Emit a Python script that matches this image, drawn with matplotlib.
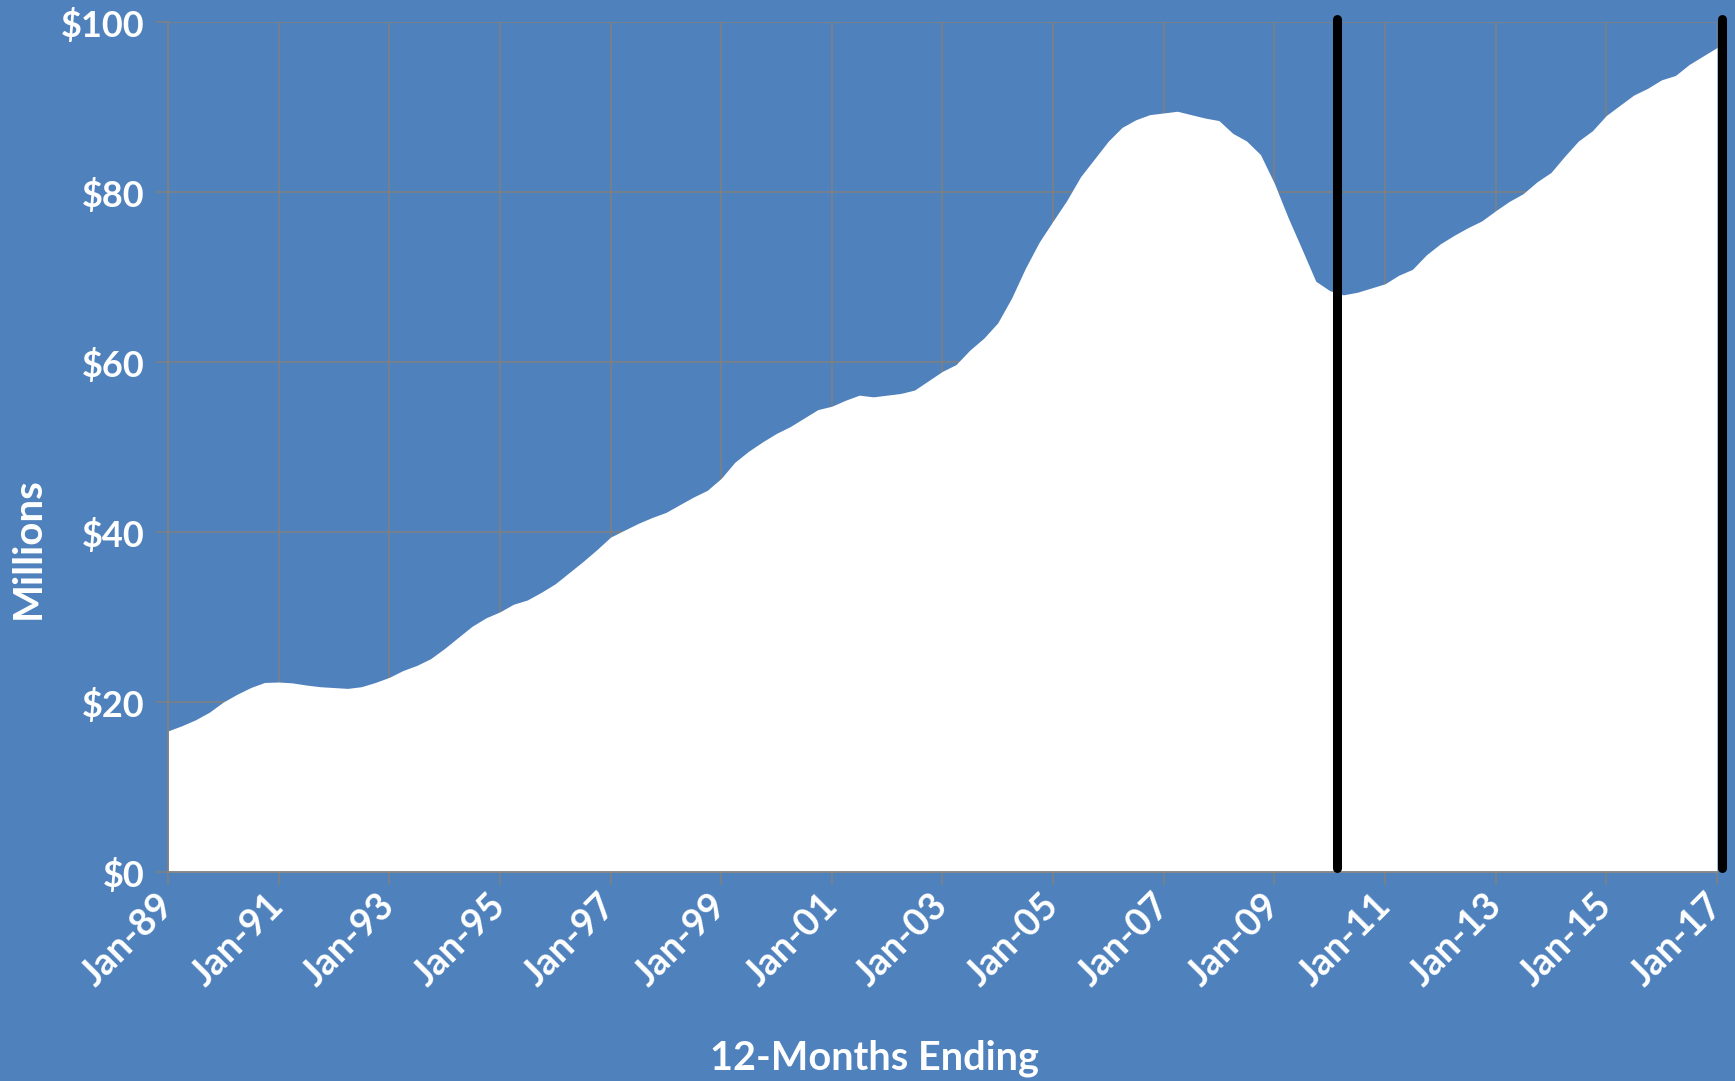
import numpy as np
import pandas as pd
import matplotlib
matplotlib.use('Agg')
import matplotlib.pyplot as plt
import matplotlib.dates as mdates

# quarterly 12-month totals, $ millions
dates = pd.date_range('1989-01-01', '2017-01-01', freq='QS')
spend = [
    16.6, 17.2, 17.9, 18.8,   # 1989
    20.0, 20.9, 21.7, 22.3,   # 1990
    22.35, 22.25, 22.0, 21.8, # 1991
    21.7, 21.6, 21.8, 22.3,   # 1992
    22.9, 23.7, 24.3, 25.1,   # 1993
    26.3, 27.6, 28.9, 29.9,   # 1994
    30.6, 31.5, 32.0, 32.9,   # 1995
    33.9, 35.2, 36.5, 37.9,   # 1996
    39.4, 40.2, 41.0, 41.7,   # 1997
    42.3, 43.2, 44.1, 44.9,   # 1998
    46.3, 48.2, 49.5, 50.6,   # 1999
    51.6, 52.4, 53.4, 54.4,   # 2000
    54.8, 55.5, 56.1, 55.9,   # 2001
    56.1, 56.3, 56.7, 57.8,   # 2002
    58.9, 59.7, 61.4, 62.8,   # 2003
    64.6, 67.5, 71.0, 74.1,   # 2004
    76.6, 79.0, 81.8, 83.9,   # 2005
    86.0, 87.6, 88.5, 89.1,   # 2006
    89.3, 89.5, 89.1, 88.7,   # 2007
    88.4, 86.9, 86.0, 84.4,   # 2008
    81.0, 77.0, 73.3, 69.5,   # 2009
    68.4, 67.9, 68.2, 68.7,   # 2010
    69.2, 70.2, 70.9, 72.6,   # 2011
    73.9, 74.9, 75.8, 76.6,   # 2012
    77.8, 78.9, 79.8, 81.2,   # 2013
    82.3, 84.2, 86.0, 87.2,   # 2014
    89.0, 90.2, 91.4, 92.2,   # 2015
    93.2, 93.7, 95.0, 96.0,   # 2016
    97.0,                     # Jan 2017
]

marker_dates = pd.to_datetime(['2010-02-15', '2017-02-05'])
y_ticks = [0, 20, 40, 60, 80, 100]
tick_years = list(range(1989, 2018, 2))

bg = '#4F81BD'
grid_c = '#808080'
font = 'Lato'

fig = plt.figure(figsize=(17.35, 10.81), dpi=100, facecolor=bg)
ax = fig.add_axes([168 / 1735, 1 - 872 / 1081, (1717 - 168) / 1735, (872 - 22) / 1081])
ax.set_facecolor(bg)

ax.fill_between(dates, spend, 0, color='white', lw=0, zorder=2)

for d in marker_dates:
    ax.plot([d, d], [0.5, 100.3], color='black', lw=6.5,
            solid_capstyle='round', clip_on=False, zorder=4)

ax.set_xlim(pd.Timestamp('1989-01-01'), pd.Timestamp('2017-01-01'))
ax.set_ylim(0, 100)
ax.set_xticks([pd.Timestamp(f'{y}-01-01') for y in tick_years])
ax.xaxis.set_major_formatter(mdates.DateFormatter('%b-%y'))
ax.set_yticks(y_ticks)
ax.set_yticklabels([f'${v}' for v in y_ticks])

ax.set_axisbelow(True)
ax.grid(True, color=grid_c, lw=1.1)
for s in ['top', 'right']:
    ax.spines[s].set_visible(False)
for s in ['left', 'bottom']:
    ax.spines[s].set_color(grid_c)
    ax.spines[s].set_linewidth(1.3)
    ax.spines[s].set_zorder(3)

ax.tick_params(axis='both', color=grid_c, length=9, width=1.1,
               labelcolor='white')
ax.tick_params(axis='x', pad=11, labelsize=27)
ax.tick_params(axis='y', pad=8, labelsize=26)
for lab in ax.get_xticklabels():
    lab.set_rotation(45)
    lab.set_ha('right')
    lab.set_va('center')
    lab.set_rotation_mode('anchor')
    lab.set_fontfamily(font)
    lab.set_fontweight('bold')
for lab in ax.get_yticklabels():
    lab.set_fontfamily(font)
    lab.set_fontweight('bold')

fig.text(28 / 1735, 1 - 548 / 1081, 'Millions', rotation=90, ha='center', va='center',
         color='white', fontsize=29, fontweight='bold', family=font)
fig.text(874 / 1735, 1 - 1058 / 1081, '12-Months Ending', ha='center', va='center',
         color='white', fontsize=28.5, fontweight='bold', family=font)

fig.savefig('out.png', dpi=100, facecolor=bg)
